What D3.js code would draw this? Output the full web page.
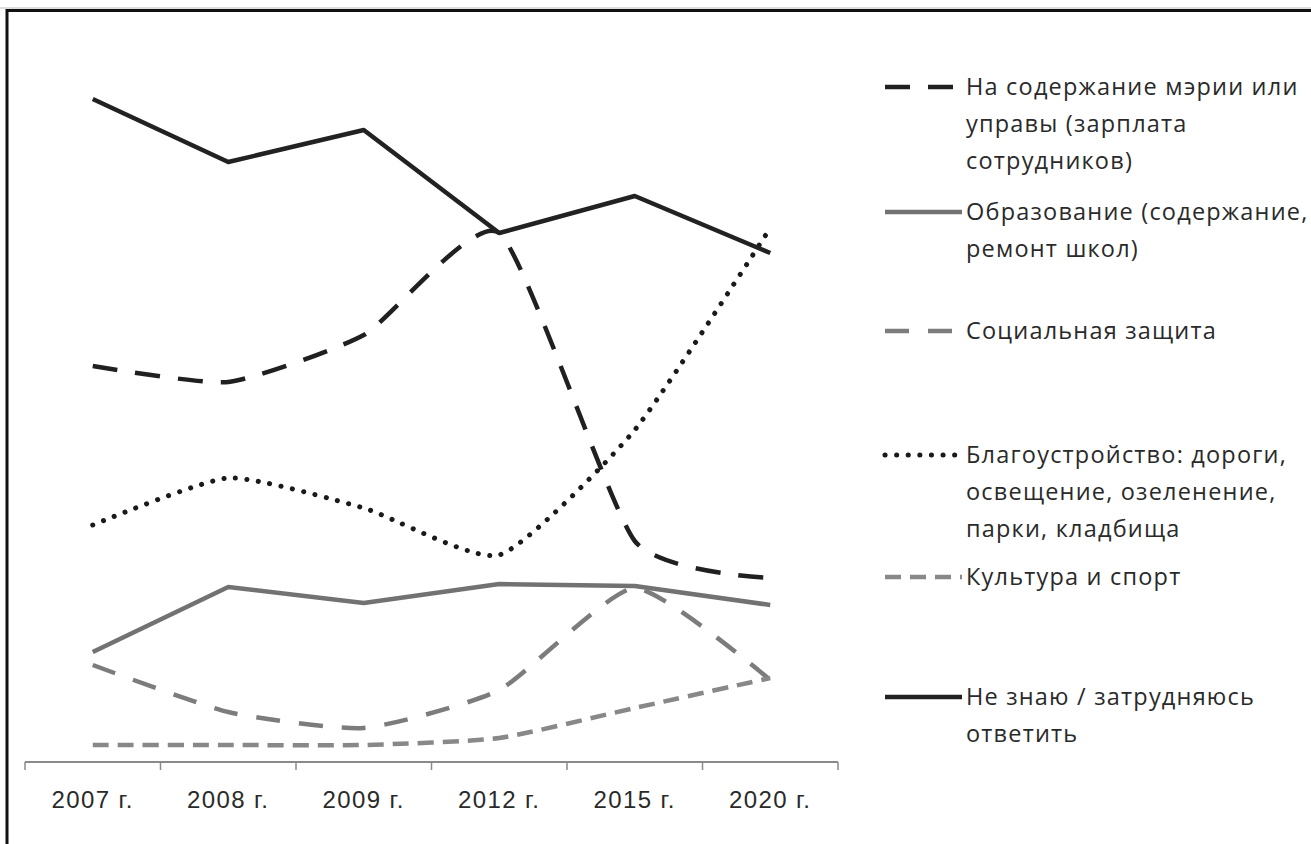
<!DOCTYPE html>
<html><head><meta charset="utf-8">
<script src="https://cdn.jsdelivr.net/npm/d3@7"></script>
<style>
html,body{margin:0;padding:0;background:#fff;}
svg{display:block;font-family:"Open Sans",sans-serif;}
</style></head>
<body>
<svg id="chart" width="1311" height="844"></svg>
<script>
const categories = ["2007 г.","2008 г.","2009 г.","2012 г.","2015 г.","2020 г."];
const mayor     = [39.5, 37.9, 42.6, 52.8, 22.0, 18.3];
const education = [10.9, 17.4, 15.8, 17.7, 17.5, 15.6];
const social    = [9.6, 4.9, 3.3, 7.1, 17.3, 8.1];
const blago     = [23.6, 28.3, 25.3, 20.6, 33.1, 53.3];
const culture   = [1.6, 1.6, 1.6, 2.3, 5.3, 8.3];
const dontKnow  = [66.2, 59.9, 63.1, 52.8, 56.5, 50.8];
const seriesNames = [
  ["На содержание мэрии или","управы (зарплата","сотрудников)"],
  ["Образование (содержание,","ремонт школ)"],
  ["Социальная защита"],
  ["Благоустройство: дороги,","освещение, озеленение,","парки, кладбища"],
  ["Культура и спорт"],
  ["Не знаю / затрудняюсь","ответить"]
];

const series = [
  {name: seriesNames[0], values: mayor,     color:"#202020", dash:"25 18", smooth:true,  cap:"butt", w:4.5},
  {name: seriesNames[1], values: education, color:"#727272", dash:null,    smooth:false, cap:"butt", w:4.5},
  {name: seriesNames[2], values: social,    color:"#7c7c7c", dash:"24 19", smooth:true,  cap:"butt", w:4.5},
  {name: seriesNames[3], values: blago,     color:"#1a1a1a", dash:"0.1 11.5", smooth:true, cap:"round", w:5},
  {name: seriesNames[4], values: culture,   color:"#888888", dash:"16 9",  smooth:true,  cap:"butt", w:4.5},
  {name: seriesNames[5], values: dontKnow,  color:"#222222", dash:null,    smooth:false, cap:"butt", w:4.5}
];

const svg = d3.select("#chart");

// frame (partially out of view)
svg.append("line").attr("x1",0).attr("x2",1311).attr("y1",8).attr("y2",8).attr("stroke","#bbb").attr("stroke-width",1);
svg.append("rect").attr("x",7).attr("y",10.5).attr("width",1400).attr("height",900)
  .attr("fill","none").attr("stroke","#111").attr("stroke-width",3);

const x = d3.scaleBand().domain(categories).range([25, 838]).padding(0);
const y = d3.scaleLinear().domain([0, 70]).range([761, 61]);

// axis
const axisG = svg.append("g").attr("transform","translate(0,762)")
  .call(d3.axisBottom(x).tickSize(0).tickPadding(0));
axisG.select(".domain").remove();
axisG.selectAll("text").remove();
axisG.append("line").attr("x1",25).attr("x2",838).attr("y1",0).attr("y2",0)
  .attr("stroke","#8a8a8a").attr("stroke-width",2);
const tickPos = categories.map(c => x(c)).concat([x(categories[categories.length-1]) + x.bandwidth()]);
axisG.selectAll("line.tk").data(tickPos).enter().append("line").attr("class","tk")
  .attr("x1",d=>d).attr("x2",d=>d).attr("y1",0).attr("y2",8)
  .attr("stroke","#8a8a8a").attr("stroke-width",1.5);
axisG.selectAll("text.lbl").data(categories).enter().append("text").attr("class","lbl")
  .attr("x",d=>x(d)+x.bandwidth()/2).attr("y",46)
  .attr("text-anchor","middle").attr("font-size",24).attr("letter-spacing","1.4px")
  .attr("fill","#2a2a2a").text(d=>d);

const cx = c => x(c) + x.bandwidth()/2;

series.forEach(s => {
  const line = d3.line()
    .x((d,i) => cx(categories[i]))
    .y(d => y(d))
    .curve(s.smooth ? d3.curveCardinal.tension(0.45) : d3.curveLinear);
  svg.append("path").datum(s.values).attr("d", line)
    .attr("fill","none").attr("stroke", s.color).attr("stroke-width", s.w)
    .attr("stroke-dasharray", s.dash).attr("stroke-linecap", s.cap)
    .attr("stroke-linejoin","round");
});

// legend
const legendY = [87, 212, 331, 455, 577, 697];
const lineH = 37;
const leg = svg.append("g");
series.forEach((s,i) => {
  const g = leg.append("g").attr("transform",`translate(0,${legendY[i]})`);
  g.append("line").attr("x1",885).attr("x2",962).attr("y1",0).attr("y2",0)
    .attr("stroke",s.color).attr("stroke-width",s.w)
    .attr("stroke-dasharray", s.dash).attr("stroke-linecap", s.cap);
  s.name.forEach((t,j) => {
    g.append("text").attr("x",966).attr("y",j*lineH).attr("dy","0.35em")
      .attr("font-size",23.5).attr("letter-spacing","1.2px")
      .attr("fill","#2a2a2a").text(t);
  });
});
</script>
</body></html>
